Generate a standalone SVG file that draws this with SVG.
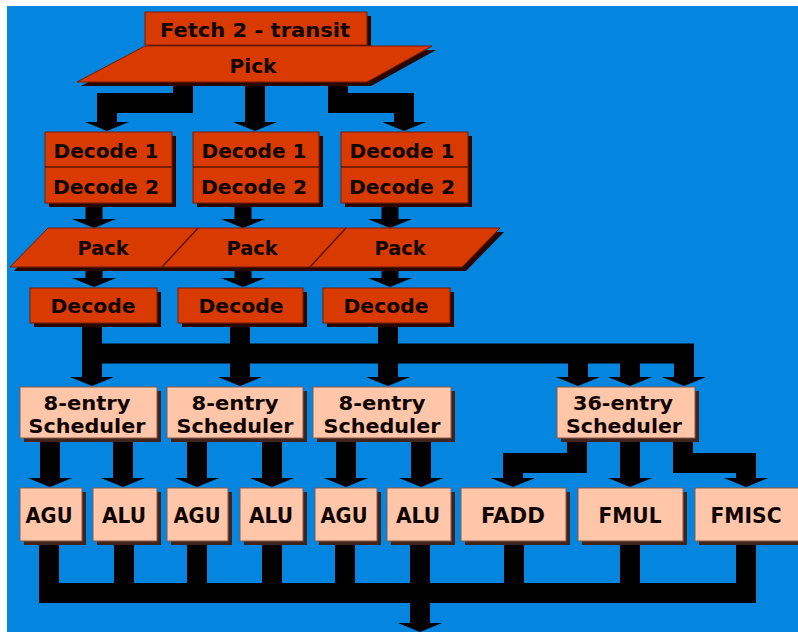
<svg xmlns="http://www.w3.org/2000/svg" width="798" height="632" viewBox="0 0 798 632">
<style>
.o{fill:#D93A00;stroke:#7a1c00;stroke-width:1}
.os{fill:#2a0800}
.p{fill:#FFC6AA;stroke:#8a5a48;stroke-width:1}
.ps{fill:#3e241c}
.t{font-family:"DejaVu Sans","Verdana",sans-serif;font-weight:bold;font-size:19px;fill:#100400;text-anchor:middle}
.ts{font-size:20px}
.tu{font-size:21px}
.div{stroke:#5a1400;stroke-width:1.5;fill:none}
.c{fill:none;stroke:#000;stroke-width:20;stroke-linejoin:miter}
.c2{fill:none;stroke:#000;stroke-width:17}
</style>
<defs>
<marker id="ah" markerUnits="userSpaceOnUse" markerWidth="10" markerHeight="44" viewBox="0 0 10 44" refX="0" refY="22" orient="auto">
<path d="M0,0 L9,22 L0,44 Z" fill="#000"/>
</marker>
</defs>
<rect x="0" y="0" width="798" height="632" fill="#fff"/>
<rect x="7" y="6" width="791" height="626" fill="#0385E0"/>

<g id="connectors">
<path class="c" d="M183,80 V103 H107 V122" marker-end="url(#ah)"/>
<path class="c" d="M255,80 V122" marker-end="url(#ah)"/>
<path class="c" d="M338,80 V103 H404 V122" marker-end="url(#ah)"/>
<path class="c2" d="M94,200 V219" marker-end="url(#ah)"/>
<path class="c2" d="M243,200 V219" marker-end="url(#ah)"/>
<path class="c2" d="M390,200 V219" marker-end="url(#ah)"/>
<path class="c2" d="M94,265 V278" marker-end="url(#ah)"/>
<path class="c2" d="M243,265 V278" marker-end="url(#ah)"/>
<path class="c2" d="M390,265 V278" marker-end="url(#ah)"/>
<path class="c" d="M92,320 V377" marker-end="url(#ah)"/>
<path class="c" d="M240,320 V377" marker-end="url(#ah)"/>
<path class="c" d="M388,320 V377" marker-end="url(#ah)"/>
<path class="c" d="M82,353.5 H684 V377" marker-end="url(#ah)"/>
<path class="c" d="M578,353 V377" marker-end="url(#ah)"/>
<path class="c" d="M630,353 V377" marker-end="url(#ah)"/>
<path class="c" d="M50,436 V478" marker-end="url(#ah)"/>
<path class="c" d="M123,436 V478" marker-end="url(#ah)"/>
<path class="c" d="M197,436 V478" marker-end="url(#ah)"/>
<path class="c" d="M272,436 V478" marker-end="url(#ah)"/>
<path class="c" d="M346,436 V478" marker-end="url(#ah)"/>
<path class="c" d="M421,436 V478" marker-end="url(#ah)"/>
<path class="c" d="M577,436 V463 H513 V478" marker-end="url(#ah)"/>
<path class="c" d="M630,436 V478" marker-end="url(#ah)"/>
<path class="c" d="M683,436 V463 H746 V478" marker-end="url(#ah)"/>
<path class="c" d="M49,539 V593 H746 V539"/>
<path class="c" d="M124,539 V593"/>
<path class="c" d="M197,539 V593"/>
<path class="c" d="M272,539 V593"/>
<path class="c" d="M345,539 V593"/>
<path class="c" d="M514,539 V593"/>
<path class="c" d="M630,539 V593"/>
<path class="c" d="M420,539 V623" marker-end="url(#ah)"/>
</g>

<g id="fetch2">
<rect class="os" x="149" y="16" width="222" height="33"/>
<rect class="o" x="145" y="12" width="222" height="33"/>
<text class="t" x="255" y="37" textLength="190" lengthAdjust="spacingAndGlyphs">Fetch 2 - transit</text>
</g>
<g id="pick">
<polygon class="os" points="149,50 436,50 371,86 81,86"/>
<polygon class="o" points="145,46 432,46 367,82 77,82"/>
<text class="t" x="253" y="73" textLength="47" lengthAdjust="spacingAndGlyphs">Pick</text>
</g>

<g id="dec12-1">
<rect class="os" x="49" y="136" width="127" height="71"/>
<rect class="o" x="45" y="132" width="127" height="71"/>
<line class="div" x1="45" y1="167" x2="172" y2="167"/>
<text class="t" x="106" y="158" textLength="105" lengthAdjust="spacingAndGlyphs">Decode 1</text>
<text class="t" x="106" y="194" textLength="106" lengthAdjust="spacingAndGlyphs">Decode 2</text>
</g>
<g id="dec12-2">
<rect class="os" x="197" y="136" width="126" height="71"/>
<rect class="o" x="193" y="132" width="126" height="71"/>
<line class="div" x1="193" y1="167" x2="319" y2="167"/>
<text class="t" x="254" y="158" textLength="105" lengthAdjust="spacingAndGlyphs">Decode 1</text>
<text class="t" x="254" y="194" textLength="106" lengthAdjust="spacingAndGlyphs">Decode 2</text>
</g>
<g id="dec12-3">
<rect class="os" x="345" y="136" width="127" height="71"/>
<rect class="o" x="341" y="132" width="127" height="71"/>
<line class="div" x1="341" y1="167" x2="468" y2="167"/>
<text class="t" x="402" y="158" textLength="105" lengthAdjust="spacingAndGlyphs">Decode 1</text>
<text class="t" x="402" y="194" textLength="106" lengthAdjust="spacingAndGlyphs">Decode 2</text>
</g>

<g id="pack">
<polygon class="os" points="51,232 504,232 466,271 14,271"/>
<polygon class="o" points="48,228 500,228 462,267 10,267"/>
<line class="div" x1="198" y1="228" x2="162" y2="267"/>
<line class="div" x1="346" y1="228" x2="310" y2="267"/>
<text class="t" x="103" y="255" textLength="51" lengthAdjust="spacingAndGlyphs">Pack</text>
<text class="t" x="252" y="255" textLength="51" lengthAdjust="spacingAndGlyphs">Pack</text>
<text class="t" x="400" y="255" textLength="51" lengthAdjust="spacingAndGlyphs">Pack</text>
</g>

<g id="decode-1">
<rect class="os" x="34" y="292" width="127" height="35"/>
<rect class="o" x="30" y="288" width="127" height="35"/>
<text class="t" x="93" y="313" textLength="85" lengthAdjust="spacingAndGlyphs">Decode</text>
</g>
<g id="decode-2">
<rect class="os" x="182" y="292" width="125" height="35"/>
<rect class="o" x="178" y="288" width="125" height="35"/>
<text class="t" x="241" y="313" textLength="85" lengthAdjust="spacingAndGlyphs">Decode</text>
</g>
<g id="decode-3">
<rect class="os" x="327" y="292" width="127" height="35"/>
<rect class="o" x="323" y="288" width="127" height="35"/>
<text class="t" x="386" y="313" textLength="85" lengthAdjust="spacingAndGlyphs">Decode</text>
</g>

<g id="sched-1">
<rect class="ps" x="24" y="391" width="137" height="51"/>
<rect class="p" x="20" y="387" width="137" height="51"/>
<text class="t ts" x="87" y="410" textLength="87" lengthAdjust="spacingAndGlyphs">8-entry</text>
<text class="t ts" x="87" y="433" textLength="117" lengthAdjust="spacingAndGlyphs">Scheduler</text>
</g>
<g id="sched-2">
<rect class="ps" x="171" y="391" width="136" height="51"/>
<rect class="p" x="167" y="387" width="136" height="51"/>
<text class="t ts" x="235" y="410" textLength="87" lengthAdjust="spacingAndGlyphs">8-entry</text>
<text class="t ts" x="235" y="433" textLength="117" lengthAdjust="spacingAndGlyphs">Scheduler</text>
</g>
<g id="sched-3">
<rect class="ps" x="317" y="391" width="138" height="51"/>
<rect class="p" x="313" y="387" width="138" height="51"/>
<text class="t ts" x="382" y="410" textLength="87" lengthAdjust="spacingAndGlyphs">8-entry</text>
<text class="t ts" x="382" y="433" textLength="117" lengthAdjust="spacingAndGlyphs">Scheduler</text>
</g>
<g id="sched-36">
<rect class="ps" x="561" y="391" width="138" height="51"/>
<rect class="p" x="557" y="387" width="138" height="51"/>
<text class="t ts" x="623" y="410" textLength="100" lengthAdjust="spacingAndGlyphs">36-entry</text>
<text class="t ts" x="624" y="433" textLength="116" lengthAdjust="spacingAndGlyphs">Scheduler</text>
</g>

<g id="agu-1">
<rect class="ps" x="24" y="492" width="62" height="53"/>
<rect class="p" x="20" y="488" width="62" height="53"/>
<text class="t tu" x="49" y="523" textLength="47" lengthAdjust="spacingAndGlyphs">AGU</text>
</g>
<g id="alu-1">
<rect class="ps" x="97" y="492" width="64" height="53"/>
<rect class="p" x="93" y="488" width="64" height="53"/>
<text class="t tu" x="124" y="523" textLength="44" lengthAdjust="spacingAndGlyphs">ALU</text>
</g>
<g id="agu-2">
<rect class="ps" x="171" y="492" width="61" height="53"/>
<rect class="p" x="167" y="488" width="61" height="53"/>
<text class="t tu" x="197" y="523" textLength="47" lengthAdjust="spacingAndGlyphs">AGU</text>
</g>
<g id="alu-2">
<rect class="ps" x="244" y="492" width="63" height="53"/>
<rect class="p" x="240" y="488" width="63" height="53"/>
<text class="t tu" x="271" y="523" textLength="44" lengthAdjust="spacingAndGlyphs">ALU</text>
</g>
<g id="agu-3">
<rect class="ps" x="319" y="492" width="62" height="53"/>
<rect class="p" x="315" y="488" width="62" height="53"/>
<text class="t tu" x="344" y="523" textLength="47" lengthAdjust="spacingAndGlyphs">AGU</text>
</g>
<g id="alu-3">
<rect class="ps" x="391" y="492" width="64" height="53"/>
<rect class="p" x="387" y="488" width="64" height="53"/>
<text class="t tu" x="418" y="523" textLength="44" lengthAdjust="spacingAndGlyphs">ALU</text>
</g>
<g id="fadd">
<rect class="ps" x="465" y="492" width="105" height="53"/>
<rect class="p" x="461" y="488" width="105" height="53"/>
<text class="t tu" x="513" y="523" textLength="64" lengthAdjust="spacingAndGlyphs">FADD</text>
</g>
<g id="fmul">
<rect class="ps" x="582" y="492" width="105" height="53"/>
<rect class="p" x="578" y="488" width="105" height="53"/>
<text class="t tu" x="630" y="523" textLength="63" lengthAdjust="spacingAndGlyphs">FMUL</text>
</g>
<g id="fmisc">
<rect class="ps" x="699" y="492" width="105" height="53"/>
<rect class="p" x="695" y="488" width="105" height="53"/>
<text class="t tu" x="746" y="523" textLength="71" lengthAdjust="spacingAndGlyphs">FMISC</text>
</g>
</svg>
